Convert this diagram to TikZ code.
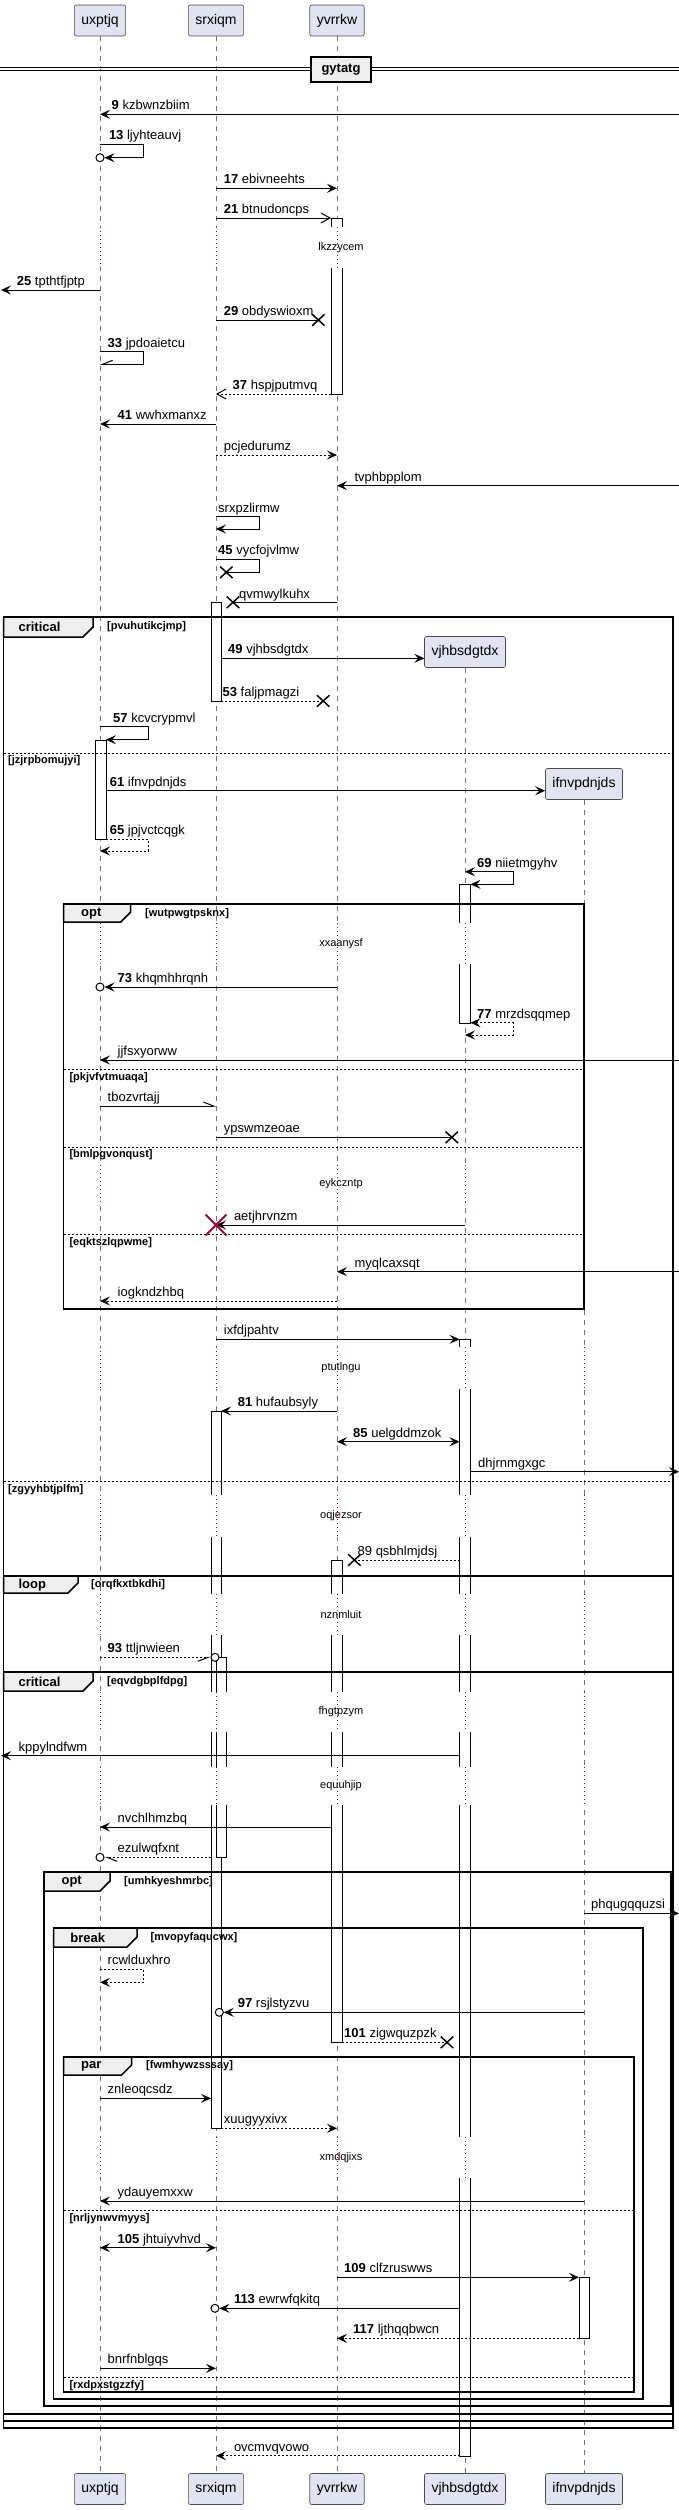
\documentclass[tikz,border=0pt]{standalone}
\usepackage{fontspec}
\setmainfont{Liberation Sans}
\usetikzlibrary{arrows.meta,shapes.misc}
\definecolor{partfill}{HTML}{E2E2F0}
\definecolor{tabfill}{HTML}{EEEEEE}
\definecolor{crim}{HTML}{A80036}
\begin{document}
\begin{tikzpicture}[x=1pt,y=-1pt,>={Stealth[length=10pt,width=9pt,inset=4pt]},
  actor/.style={draw=black!70,fill=partfill,rounded corners=2pt,line width=0.6pt,minimum height=31pt,inner xsep=7pt,font=\fontsize{14}{16}\selectfont},
  life/.style={draw=black!55,dash pattern=on 5pt off 5pt,line width=0.5pt},
  bar/.style={draw=black,fill=white,line width=1pt},
  gap/.style={fill=white},
  dly/.style={draw=crim,dash pattern=on 1pt off 3pt,line width=1pt},
  dtxt/.style={font=\fontsize{11}{13}\selectfont,inner sep=0},
  frm/.style={draw=black,line width=1.5pt},
  tab/.style={draw=black,fill=tabfill,line width=1.5pt},
  tabtxt/.style={font=\bfseries\fontsize{13}{15}\selectfont,anchor=west,inner sep=0},
  guard/.style={font=\bfseries\fontsize{11}{13}\selectfont,anchor=west,inner sep=0},
  sep/.style={draw=black,dash pattern=on 2pt off 2pt,line width=1pt},
  msg/.style={draw=black,line width=1pt},
  dmsg/.style={msg,dash pattern=on 2pt off 2pt},
  lbl/.style={font=\fontsize{13}{15}\selectfont,anchor=base west,inner sep=0},
  xmark/.style={cross out,draw=black,line width=1.5pt,minimum width=11pt,minimum height=10pt,inner sep=0},
  bigx/.style={cross out,draw=crim,line width=2pt,minimum size=19pt,inner sep=0},
  ring/.style={circle,draw=black,fill=white,line width=1pt,minimum size=8pt,inner sep=0},
  divider/.style={draw=black,fill=tabfill,line width=1.5pt,minimum width=59.6pt,minimum height=25pt,inner sep=0,font=\bfseries\fontsize{13}{15}\selectfont}]
\useasboundingbox (0,0) rectangle (679,2510);
\node[actor] (U) at (100,20.5) {uxptjq};
\node[actor] (S) at (216,20.5) {srxiqm};
\node[actor] (Y) at (337,20.5) {yvrrkw};
\node[actor] (V) at (465,652) {vjhbsdgtdx};
\node[actor] (I) at (584,784) {ifnvpdnjds};
\node[actor] (U2) at (100,2489) {uxptjq};
\node[actor] (S2) at (216,2489) {srxiqm};
\node[actor] (Y2) at (337,2489) {yvrrkw};
\node[actor] (V2) at (465,2489) {vjhbsdgtdx};
\node[actor] (I2) at (584,2489) {ifnvpdnjds};
\coordinate (L) at (1,0);
\coordinate (R) at (679,0);
\coordinate (Ur) at ([xshift=6pt]U.south);
\coordinate (Sl) at ([xshift=-5pt]S.south);
\coordinate (Sr) at ([xshift=5pt]S.south);
\coordinate (Yl) at ([xshift=-6pt]Y.south);
\coordinate (Yr) at ([xshift=5pt]Y.south);
\coordinate (Vl) at ([xshift=-5.5pt]V.south);
\coordinate (Vr) at ([xshift=5.5pt]V.south);
\coordinate (Il) at ([xshift=-5pt]I.south);
\draw[life] (U) -- (U2);
\draw[life] (S) -- (S2);
\draw[life] (Y) -- (Y2);
\draw[life] (V) -- (V2);
\draw[life] (I) -- (I2);
\draw[line width=1pt] (0,68) -- (679,68) (0,71) -- (679,71);
\node[divider] (gy) at (341,69.5) {gytatg};
\draw[bar] (331,218) rectangle (342,394);
\draw[bar] (211,602) rectangle (221,701);
\draw[bar] (95,740) rectangle (106,839);
\draw[bar] (459.5,884) rectangle (470.5,1023);
\draw[bar] (459.5,1339) rectangle (470.5,2456);
\draw[bar] (211,1411) rectangle (221,2128);
\draw[bar] (331,1560) rectangle (342,2042);
\draw[bar] (216,1657) rectangle (226,1857);
\draw[bar] (579,2277) rectangle (589,2338);
\foreach \x in {100,216,337} {
  \fill[gap] (\x-8,227) rectangle (\x+14,267.5);
  \draw[dly] (\x,227) -- (\x,267.5);
}
\node[dtxt] (d0) at (341,247.5) {lkzzycem};
\foreach \ya/\yb/\txt [count=\k] in {923/964/xxaanysf,1165/1202/eykczntp,1347/1389/ptutlngu,1495/1537/oqjezsor,1594/1635/nznmluit,1692/1732/fhgtpzym,1767/1805/equuhjip,2137/2178/xmdqjixs} {
  \foreach \x in {100,216,337,465,584} {
    \fill[gap] (\x-8,\ya) rectangle (\x+14,\yb);
    \draw[dly] (\x,\ya) -- (\x,\yb);
  }
  \node[dtxt] (d\k) at (341,{(\ya+\yb)/2}) {\txt};
}
\draw[frm] (3.5,617) rectangle (673,2428);
\draw[tab] (3.5,617) -- (93,617) -- (93,627) -- (83,637) -- (3.5,637) -- cycle;
\node[tabtxt] (k1) at (18.4,627) {critical};
\node[guard] (g1) at (107,627) {[pvuhutikcjmp]};
\draw[sep] (3.5,753) -- (673,753);
\node[guard] (g2) at (8,760.7) {[jzjrpbomujyi]};
\draw[sep] (3.5,1481) -- (673,1481);
\node[guard] (g3) at (8,1489.3) {[zgyyhbtjplfm]};
\draw[frm] (63.6,904) rectangle (584,1309);
\draw[tab] (63.6,904) -- (130.7,904) -- (130.7,912) -- (120.7,922) -- (63.6,922) -- cycle;
\node[tabtxt] (k2) at (81,914) {opt};
\node[guard] (g4) at (145,914) {[wutpwgtpsknx]};
\draw[sep] (63.6,1069) -- (584,1069);
\node[guard] (g5) at (69.3,1077.3) {[pkjvfvtmuaqa]};
\draw[sep] (63.6,1147) -- (584,1147);
\node[guard] (g6) at (69.3,1154.3) {[bmlpgvonqust]};
\draw[sep] (63.6,1234) -- (584,1234);
\node[guard] (g7) at (69.3,1242.3) {[eqktszlqpwme]};
\draw[frm] (3.5,1576) rectangle (673,2421);
\draw[tab] (3.5,1576) -- (78,1576) -- (78,1583) -- (68,1593) -- (3.5,1593) -- cycle;
\node[tabtxt] (k3) at (18.4,1585) {loop};
\node[guard] (g8) at (91,1585) {[orqfkxtbkdhi]};
\draw[frm] (3.5,1672) rectangle (673,2414);
\draw[tab] (3.5,1672) -- (93,1672) -- (93,1681) -- (83,1691) -- (3.5,1691) -- cycle;
\node[tabtxt] (k4) at (18.4,1681.5) {critical};
\node[guard] (g9) at (107,1681.5) {[eqvdgbplfdpg]};
\draw[frm] (44,1872) rectangle (671,2406);
\draw[tab] (44,1872) -- (110,1872) -- (110,1881) -- (100,1891) -- (44,1891) -- cycle;
\node[tabtxt] (k5) at (61.4,1881.5) {opt};
\node[guard] (g10) at (124,1881.5) {[umhkyeshmrbc]};
\draw[frm] (53.5,1928) rectangle (643,2399);
\draw[tab] (53.5,1928) -- (137,1928) -- (137,1937) -- (127,1947) -- (53.5,1947) -- cycle;
\node[tabtxt] (k6) at (70.2,1937.5) {break};
\node[guard] (g11) at (150.4,1937.5) {[mvopyfaqucwx]};
\draw[frm] (63.6,2057) rectangle (634,2392);
\draw[tab] (63.6,2057) -- (131.6,2057) -- (131.6,2065) -- (121.6,2075) -- (63.6,2075) -- cycle;
\node[tabtxt] (k7) at (81,2066) {par};
\node[guard] (g12) at (146,2066) {[fwmhywzsssay]};
\draw[sep] (63.6,2210) -- (634,2210);
\node[guard] (g13) at (69.3,2218.3) {[nrljynwvmyys]};
\draw[sep] (63.6,2377) -- (634,2377);
\node[guard] (g14) at (69.3,2385.7) {[rxdpxstgzzfy]};
\draw[msg,->] (R |- 0,114.3) -- (U |- 0,114.3);
\node[lbl] (l9) at (111.5,109.8) {\textbf{9} kzbwnzbiim};
\node[ring] (c13) at (100,157.7) {};
\draw[msg,->] (U |- 0,144.3) -- (143.4,144.3) -- (143.4,157.7) -- (c13);
\node[lbl] (l13) at (108.8,139.8) {\textbf{13} ljyhteauvj};
\draw[msg,->] (S |- 0,188.3) -- (Y |- 0,188.3);
\node[lbl] (l17) at (223.7,183.8) {\textbf{17} ebivneehts};
\draw[msg,-{Straight Barb[length=9pt,width=10pt]}] (S |- 0,218) -- (Yl |- 0,218);
\node[lbl] (l21) at (223.7,213.5) {\textbf{21} btnudoncps};
\draw[msg,->] (U |- 0,290) -- (L |- 0,290);
\node[lbl] (l25) at (16.7,285.5) {\textbf{25} tpthtfjptp};
\node[xmark] (x29) at (318.4,320) {};
\draw[msg] (S |- 0,320) -- (x29.center);
\node[lbl] (l29) at (223.7,315.5) {\textbf{29} obdyswioxm};
\draw[msg,-{Straight Barb[right,length=10pt,width=8pt]}] (U |- 0,351.7) -- (143.4,351.7) -- (143.4,364.3) -- (U |- 0,364.3);
\node[lbl] (l33) at (107.5,347.2) {\textbf{33} jpdoaietcu};
\draw[dmsg,-{Straight Barb[length=9pt,width=10pt]}] (Yl |- 0,394) -- (S |- 0,394);
\node[lbl] (l37) at (232.5,389.5) {\textbf{37} hspjputmvq};
\draw[msg,->] (S |- 0,424) -- (U |- 0,424);
\node[lbl] (l41) at (117.5,419.5) {\textbf{41} wwhxmanxz};
\draw[dmsg,->] (S |- 0,455) -- (Y |- 0,455);
\node[lbl] (lpcj) at (223.7,450.5) {pcjedurumz};
\draw[msg,->] (R |- 0,485.7) -- (Y |- 0,485.7);
\node[lbl] (ltvp) at (354.4,481.2) {tvphbpplom};
\draw[msg,->] (S |- 0,516.7) -- (259,516.7) -- (259,529) -- (S |- 0,529);
\node[lbl] (lsrx) at (218,512.2) {srxpzlirmw};
\node[xmark] (x45) at (226.3,572.3) {};
\draw[msg] (S |- 0,559.3) -- (259,559.3) -- (259,572.3) -- (x45.center);
\node[lbl] (l45) at (218,554.8) {\textbf{45} vycfojvlmw};
\node[xmark] (xqv) at (233,602.3) {};
\draw[msg] (Y |- 0,602.3) -- (xqv.center);
\node[lbl] (lqvm) at (239,598) {qvmwylkuhx};
\draw[msg,->] (Sr |- 0,658.3) -- (V.west |- 0,658.3);
\node[lbl] (l49) at (228,653.8) {\textbf{49} vjhbsdgtdx};
\node[xmark] (x53) at (323.2,701) {};
\draw[dmsg] (Sr |- 0,701) -- (x53.center);
\node[lbl] (l53) at (222.4,696.5) {\textbf{53} faljpmagzi};
\draw[msg,->] (U |- 0,726.7) -- (148,726.7) -- (148,739.7) -- (Ur |- 0,739.7);
\node[lbl] (l57) at (113,722.2) {\textbf{57} kcvcrypmvl};
\draw[msg,->] (Ur |- 0,790.7) -- (I.west |- 0,790.7);
\node[lbl] (l61) at (109.6,786.2) {\textbf{61} ifnvpdnjds};
\draw[dmsg,->] (Ur |- 0,839.3) -- (148,839.3) -- (148,851) -- (U |- 0,851);
\node[lbl] (l65) at (109.6,834.8) {\textbf{65} jpjvctcqgk};
\draw[msg,<->] (V |- 0,871.7) -- (513,871.7) -- (513,884.3) -- (Vr |- 0,884.3);
\node[lbl] (l69) at (477,867.2) {\textbf{69} niietmgyhv};
\node[ring] (c73) at (100,987) {};
\draw[msg,->] (Y |- 0,987) -- (c73);
\node[lbl] (l73) at (117.5,982.5) {\textbf{73} khqmhhrqnh};
\draw[dmsg,<->] (Vr |- 0,1022.7) -- (513,1022.7) -- (513,1035) -- (V |- 0,1035);
\node[lbl] (l77) at (477,1018.2) {\textbf{77} mrzdsqqmep};
\draw[msg,->] (R |- 0,1060) -- (U |- 0,1060);
\node[lbl] (ljjf) at (117.5,1055.5) {jjfsxyorww};
\draw[msg,-{Straight Barb[left,length=10pt,width=8pt]}] (U |- 0,1106) -- (S |- 0,1106);
\node[lbl] (ltbo) at (107.5,1101.5) {tbozvrtajj};
\node[xmark] (xyp) at (451.8,1137.3) {};
\draw[msg] (S |- 0,1137.3) -- (xyp.center);
\node[lbl] (lyps) at (223.7,1132.8) {ypswmzeoae};
\draw[msg,->] (V |- 0,1225) -- (S |- 0,1225);
\node[bigx] (xae) at (216,1225) {};
\node[lbl] (laet) at (233.8,1220.5) {aetjhrvnzm};
\draw[msg,->] (R |- 0,1271.7) -- (Y |- 0,1271.7);
\node[lbl] (lmyq) at (354.4,1267.2) {myqlcaxsqt};
\draw[dmsg,->] (Y |- 0,1301) -- (U |- 0,1301);
\node[lbl] (liog) at (117.5,1296.5) {iogkndzhbq};
\draw[msg,->] (S |- 0,1339.3) -- (Vl |- 0,1339.3);
\node[lbl] (lixf) at (223.7,1334.8) {ixfdjpahtv};
\draw[msg,->] (Y |- 0,1411) -- (Sr |- 0,1411);
\node[lbl] (l81) at (237.7,1406.5) {\textbf{81} hufaubsyly};
\draw[msg,<->] (Y |- 0,1441.7) -- (Vl |- 0,1441.7);
\node[lbl] (l85) at (353,1437.2) {\textbf{85} uelgddmzok};
\draw[msg,->] (Vr |- 0,1471.7) -- (R |- 0,1471.7);
\node[lbl] (ldhj) at (478,1467.2) {dhjrnmgxgc};
\node[xmark] (x89) at (354.4,1560) {};
\draw[dmsg] (Vl |- 0,1560) -- (x89.center);
\node[lbl] (l89) at (357.5,1555.5) {89 qsbhlmjdsj};
\node[ring] (c93) at (215,1657.3) {};
\draw[dmsg,-{Straight Barb[right,length=10pt,width=8pt]}] (U |- 0,1657.3) -- (c93);
\node[lbl] (l93) at (107.5,1652.8) {\textbf{93} ttljnwieen};
\draw[msg,->] (Vl |- 0,1755.7) -- (L |- 0,1755.7);
\node[lbl] (lkpp) at (18.4,1751.2) {kppylndfwm};
\draw[msg,->] (Yl |- 0,1827) -- (U |- 0,1827);
\node[lbl] (lnvc) at (117.5,1822.5) {nvchlhmzbq};
\node[ring] (cez) at (100,1857.3) {};
\draw[dmsg,-{Straight Barb[left,length=10pt,width=8pt]}] (Sl |- 0,1857.3) -- (cez);
\node[lbl] (lezu) at (117.5,1852.8) {ezulwqfxnt};
\draw[msg,->] (I |- 0,1913.3) -- (R |- 0,1913.3);
\node[lbl] (lphq) at (591,1908.8) {phqugqquzsi};
\draw[dmsg,->] (U |- 0,1969.3) -- (143.4,1969.3) -- (143.4,1982.3) -- (U |- 0,1982.3);
\node[lbl] (lrcw) at (107.5,1964.8) {rcwlduxhro};
\node[ring] (c97) at (219.3,2012.3) {};
\draw[msg,->] (I |- 0,2012.3) -- (c97);
\node[lbl] (l97) at (237.7,2007.8) {\textbf{97} rsjlstyzvu};
\node[xmark] (x101) at (447,2042.3) {};
\draw[dmsg] (Yr |- 0,2042.3) -- (x101.center);
\node[lbl] (l101) at (344,2037.8) {\textbf{101} zigwquzpzk};
\draw[msg,->] (U |- 0,2098.3) -- (Sl |- 0,2098.3);
\node[lbl] (lznl) at (107.5,2093.8) {znleoqcsdz};
\draw[dmsg,->] (Sr |- 0,2128.3) -- (Y |- 0,2128.3);
\node[lbl] (lxuu) at (223.7,2123.8) {xuugyyxivx};
\draw[msg,->] (I |- 0,2201) -- (U |- 0,2201);
\node[lbl] (lyda) at (117.5,2196.5) {ydauyemxxw};
\draw[msg,<->] (U |- 0,2247.7) -- (S |- 0,2247.7);
\node[lbl] (l105) at (117.5,2243.2) {\textbf{105} jhtuiyvhvd};
\draw[msg,->] (Y |- 0,2277.3) -- (Il |- 0,2277.3);
\node[lbl] (l109) at (344,2272.8) {\textbf{109} clfzruswws};
\node[ring] (c113) at (215,2308.3) {};
\draw[msg,->] (Vl |- 0,2308.3) -- (c113);
\node[lbl] (l113) at (233.8,2303.8) {\textbf{113} ewrwfqkitq};
\draw[dmsg,->] (Il |- 0,2338.3) -- (Y |- 0,2338.3);
\node[lbl] (l117) at (353,2333.8) {\textbf{117} ljthqqbwcn};
\draw[msg,->] (U |- 0,2368.3) -- (S |- 0,2368.3);
\node[lbl] (lbnr) at (107.5,2363.8) {bnrfnblgqs};
\draw[dmsg,->] (Vl |- 0,2455.7) -- (S |- 0,2455.7);
\node[lbl] (lovc) at (233.8,2451.2) {ovcmvqvowo};
\end{tikzpicture}
\end{document}
